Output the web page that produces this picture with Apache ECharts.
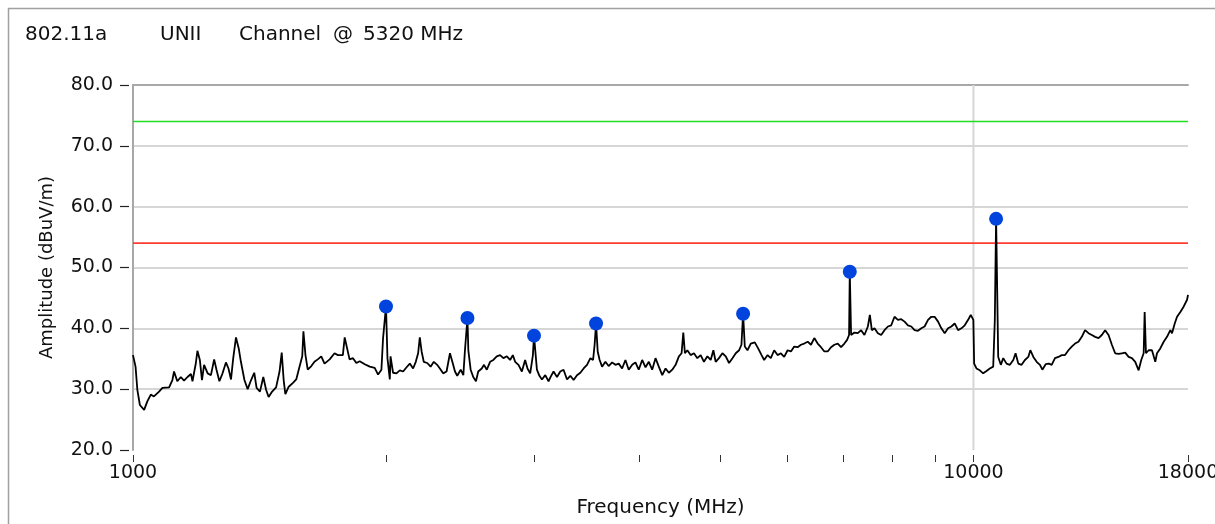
<!DOCTYPE html>
<html>
<head>
<meta charset="utf-8">
<script src="https://cdn.jsdelivr.net/npm/echarts/dist/echarts.min.js"></script>
<style>
html,body{margin:0;padding:0;background:#fff;}
#chart{width:1215px;height:524px;}
</style>
</head>
<body>
<div id="chart"></div>
<script>
// ---- data ----
const freqMHz = [
1000,1007,1012,1019,1031,1040,1050,1059,1074,1084,1104,1114,1119,1129,1140,1150,1161,1172,1177,1188,
1193,1201,1208,1215,1227,1238,1249,1257,1267,1278,1290,1299,1308,1316,1326,1336,1344,1357,1369,1382,
1394,1403,1416,1429,1440,1450,1464,1480,1494,1503,1511,1518,1532,1549,1564,1578,1590,1595,1604,1614,
1630,1644,1659,1675,1690,1714,1737,1753,1777,1786,1810,1827,1844,1861,1887,1913,1939,1957,1975,1984,
2000,2008,2021,2025,2039,2058,2077,2096,2116,2135,2154,2170,2184,2194,2205,2218,2239,2260,2280,2301,
2318,2339,2361,2383,2401,2416,2431,2454,2472,2483,2500,2506,2522,2540,2559,2575,2600,2616,2636,2660,
2684,2709,2734,2759,2785,2810,2831,2849,2875,2902,2928,2947,2969,2991,3000,3024,3045,3066,3094,3122,
3142,3165,3195,3224,3253,3284,3314,3344,3375,3406,3437,3469,3501,3527,3542,3556,3572,3591,3615,3648,
3681,3716,3750,3784,3819,3854,3889,3926,3961,3997,4035,4072,4109,4147,4185,4223,4263,4302,4341,4382,
4422,4462,4495,4516,4536,4566,4608,4650,4693,4736,4779,4824,4868,4904,4935,4980,5027,5073,5119,5167,
5214,5262,5296,5320,5345,5384,5433,5493,5544,5596,5636,5689,5740,5793,5847,5900,5954,6010,6065,6120,
6177,6234,6290,6350,6407,6466,6526,6586,6646,6708,6769,6831,6895,6958,7021,7074,7112,7126,7152,7217,
7285,7351,7418,7488,7529,7570,7625,7696,7766,7837,7911,7983,8055,8131,8205,8280,8357,8434,8510,8590,
8669,8747,8830,8910,8991,9076,9158,9242,9328,9413,9499,9588,9676,9764,9855,9926,9997,10019,10083,10175,
10270,10364,10458,10556,10603,10640,10702,10779,10850,10949,11049,11153,11223,11307,11410,11514,11622,11686,11783,11890,
11998,12078,12188,12299,12390,12503,12620,12735,12851,12972,13090,13209,13333,13455,13577,13705,13830,13956,14087,14215,
14344,14479,14611,14744,14882,15018,15155,15297,15436,15577,15723,15836,15941,15984,16042,16161,16308,16457,16534,16684,
16841,16994,17149,17229,17358,17468,17627,17792,17954,18000
];
const amplitude = [
35.6,33.7,29.9,27.4,26.6,28.0,29.1,28.8,29.6,30.2,30.3,31.5,32.9,31.3,32.0,31.4,32.0,32.5,31.3,34.3,
36.3,34.8,31.5,34.0,32.6,32.3,34.9,33.2,31.3,32.6,34.4,33.4,31.6,35.1,38.5,36.7,34.5,31.5,30.0,31.5,
32.7,30.2,29.6,32.0,29.9,28.7,29.6,30.3,32.9,36.0,31.5,29.2,30.4,31.0,31.6,33.7,35.4,39.5,35.6,33.2,
33.8,34.5,34.9,35.4,34.2,34.9,35.9,35.6,35.6,38.5,34.9,35.1,34.3,34.6,34.1,33.7,33.5,32.4,33.2,38.4,
43.6,35.1,31.6,35.4,32.7,32.6,33.1,32.9,33.6,34.2,33.4,34.5,35.9,38.5,36.2,34.5,34.3,33.7,34.5,34.0,
33.4,32.6,32.9,35.9,34.3,32.9,32.2,33.2,32.3,36.4,41.7,36.4,33.2,32.0,31.3,32.9,33.4,34.0,33.2,34.5,
34.8,35.4,35.6,35.1,35.4,34.8,35.6,34.5,34.0,32.9,34.8,33.4,32.6,35.6,38.8,33.2,32.2,31.6,32.3,31.3,
32.1,32.9,32.0,32.9,33.2,31.6,32.2,31.5,32.3,32.7,33.4,34.0,35.1,34.8,37.3,40.8,36.2,34.8,33.7,34.5,
33.8,34.4,34.0,34.2,33.4,34.8,33.2,34.0,34.4,33.2,34.8,33.6,34.5,33.2,35.1,33.7,32.3,33.4,32.7,33.2,
34.0,35.4,35.9,39.3,35.9,36.4,35.6,35.9,35.1,35.6,34.5,35.4,34.8,36.4,34.5,35.1,35.9,35.4,34.3,35.1,
35.9,36.4,37.3,42.4,37.0,36.4,37.5,37.7,36.7,35.6,34.8,35.6,35.1,36.4,35.6,35.9,35.3,36.4,36.2,37.0,
36.9,37.3,37.5,37.8,37.3,38.4,37.5,36.9,36.2,36.2,36.9,37.3,37.5,36.9,37.5,38.1,38.9,49.3,38.9,39.3,
39.2,39.7,38.9,40.3,42.2,39.7,40.0,39.2,38.9,39.7,40.3,40.5,41.9,41.4,41.5,41.1,40.5,40.3,39.7,39.6,
40.0,40.3,41.4,41.9,41.9,41.1,40.0,39.2,40.0,40.3,40.8,39.7,40.0,40.5,41.4,42.2,41.4,34.2,33.4,33.1,
32.6,33.0,33.4,33.7,41.4,58.0,35.3,34.0,35.1,34.2,34.0,34.8,35.9,34.2,34.0,34.8,35.3,36.4,35.3,34.5,
34.0,33.2,34.1,34.2,34.0,35.1,35.3,35.6,35.6,36.4,37.0,37.5,37.8,38.6,39.7,39.2,38.9,38.6,38.4,38.9,
39.7,38.9,37.3,35.9,35.8,35.9,36.0,35.3,35.1,34.5,33.1,34.8,35.9,42.7,35.9,36.4,36.4,34.5,35.9,36.7,
37.8,38.6,39.7,39.2,40.8,41.9,42.7,43.6,44.7,45.5
];
const peakFreq = [2000, 2500, 3000, 3556, 5320, 7126, 10640];
const peakAmp  = [43.6, 41.7, 38.8, 40.8, 42.4, 49.3, 58.0];
const limitGreen = 74;
const limitRed = 54;
const xMin = 1000, xMax = 18000;
const yMin = 20, yMax = 80, yStep = 10;
const xLabelValues = [1000, 10000, 18000];
const xTickValues = [1000, 2000, 3000, 4000, 5000, 6000, 7000, 8000, 9000, 10000, 18000];
const xGridValue = 10000;
const headerTexts = ['802.11a', 'UNII', 'Channel', '@', '5320 MHz'];
const xTitle = 'Frequency (MHz)';
const yTitle = 'Amplitude (dBuV/m)';

// ---- chart ----
const FONT = '"DejaVu Sans", Verdana, sans-serif';
const FS = 19;
const chart = echarts.init(document.getElementById('chart'), null, {renderer: 'canvas'});

const traceData = freqMHz.map((f, i) => [f, amplitude[i]]);
const peakData = peakFreq.map((f, i) => [f, peakAmp[i]]);
const headerX = [25, 160, 239, 333, 363];

const option = {
  backgroundColor: '#fff',
  animation: false,
  textStyle: {fontFamily: FONT},
  grid: {left: 133, top: 85, right: 27, bottom: 74, containLabel: false, outerBoundsMode: 'none'},
  graphic: [
    {type: 'rect', shape: {x: 8.5, y: 8.5, width: 1240, height: 560}, style: {fill: 'none', stroke: '#a0a0a0', lineWidth: 1.5}, silent: true},
    ...headerTexts.map((t, i) => ({
      type: 'text', left: headerX[i], top: 25,
      style: {text: t, font: '20px ' + FONT, fill: '#111'}, silent: true
    }))
  ],
  xAxis: [
    {
      type: 'log', logBase: 10, min: xMin, max: xMax, position: 'bottom', offset: 5,
      axisLine: {show: false},
      axisTick: {show: true, length: 7, customValues: xTickValues, lineStyle: {color: '#333', width: 1}},
      axisLabel: {customValues: xLabelValues, margin: 9, color: '#111', fontSize: FS, fontFamily: FONT,
        hideOverlap: false, formatter: v => String(Math.round(v))},
      splitLine: {show: false},
      name: xTitle, nameLocation: 'middle', nameGap: 43,
      nameTextStyle: {color: '#111', fontSize: 20, fontFamily: FONT}
    },
    {
      type: 'log', logBase: 10, min: xMin, max: xMax, position: 'top',
      axisLine: {show: true, lineStyle: {color: '#a8a8a8', width: 2}},
      axisTick: {show: false}, axisLabel: {show: false}, splitLine: {show: false}
    }
  ],
  yAxis: [
    {
      type: 'value', min: yMin, max: yMax, interval: yStep, position: 'left',
      axisLine: {show: true, lineStyle: {color: '#a8a8a8', width: 2}},
      axisTick: {show: false}, axisLabel: {show: false},
      splitLine: {show: true, showMinLine: false, showMaxLine: false, lineStyle: {color: '#d6d6d6', width: 2}},
      name: yTitle, nameLocation: 'middle', nameGap: 77,
      nameTextStyle: {color: '#111', fontSize: 18, fontFamily: FONT}
    },
    {
      type: 'value', min: yMin, max: yMax, interval: yStep, position: 'left', offset: 4,
      axisLine: {show: false},
      axisTick: {show: true, length: 9, lineStyle: {color: '#222', width: 1.2}},
      axisLabel: {margin: 16, color: '#111', fontSize: FS, fontFamily: FONT, formatter: v => v.toFixed(1)},
      splitLine: {show: false}
    }
  ],
  series: [
    {
      type: 'line', silent: true, symbol: 'none', z: 1,
      data: [[xGridValue, yMin], [xGridValue, yMax]],
      lineStyle: {color: '#d6d6d6', width: 2}
    },
    {
      type: 'line', silent: true, symbol: 'none', z: 2,
      data: [[xMin, limitGreen], [xMax, limitGreen]],
      lineStyle: {color: '#22dd22', width: 1.6}
    },
    {
      type: 'line', silent: true, symbol: 'none', z: 2,
      data: [[xMin, limitRed], [xMax, limitRed]],
      lineStyle: {color: '#ff3c30', width: 1.6}
    },
    {
      type: 'line', silent: true, symbol: 'none', showSymbol: false, z: 3,
      data: traceData,
      lineStyle: {color: '#000', width: 1.8}
    },
    {
      type: 'scatter', silent: true, z: 4,
      data: peakData, symbol: 'circle', symbolSize: 14,
      itemStyle: {color: '#0044dd', opacity: 1}
    }
  ]
};
chart.setOption(option);
</script>
</body>
</html>
